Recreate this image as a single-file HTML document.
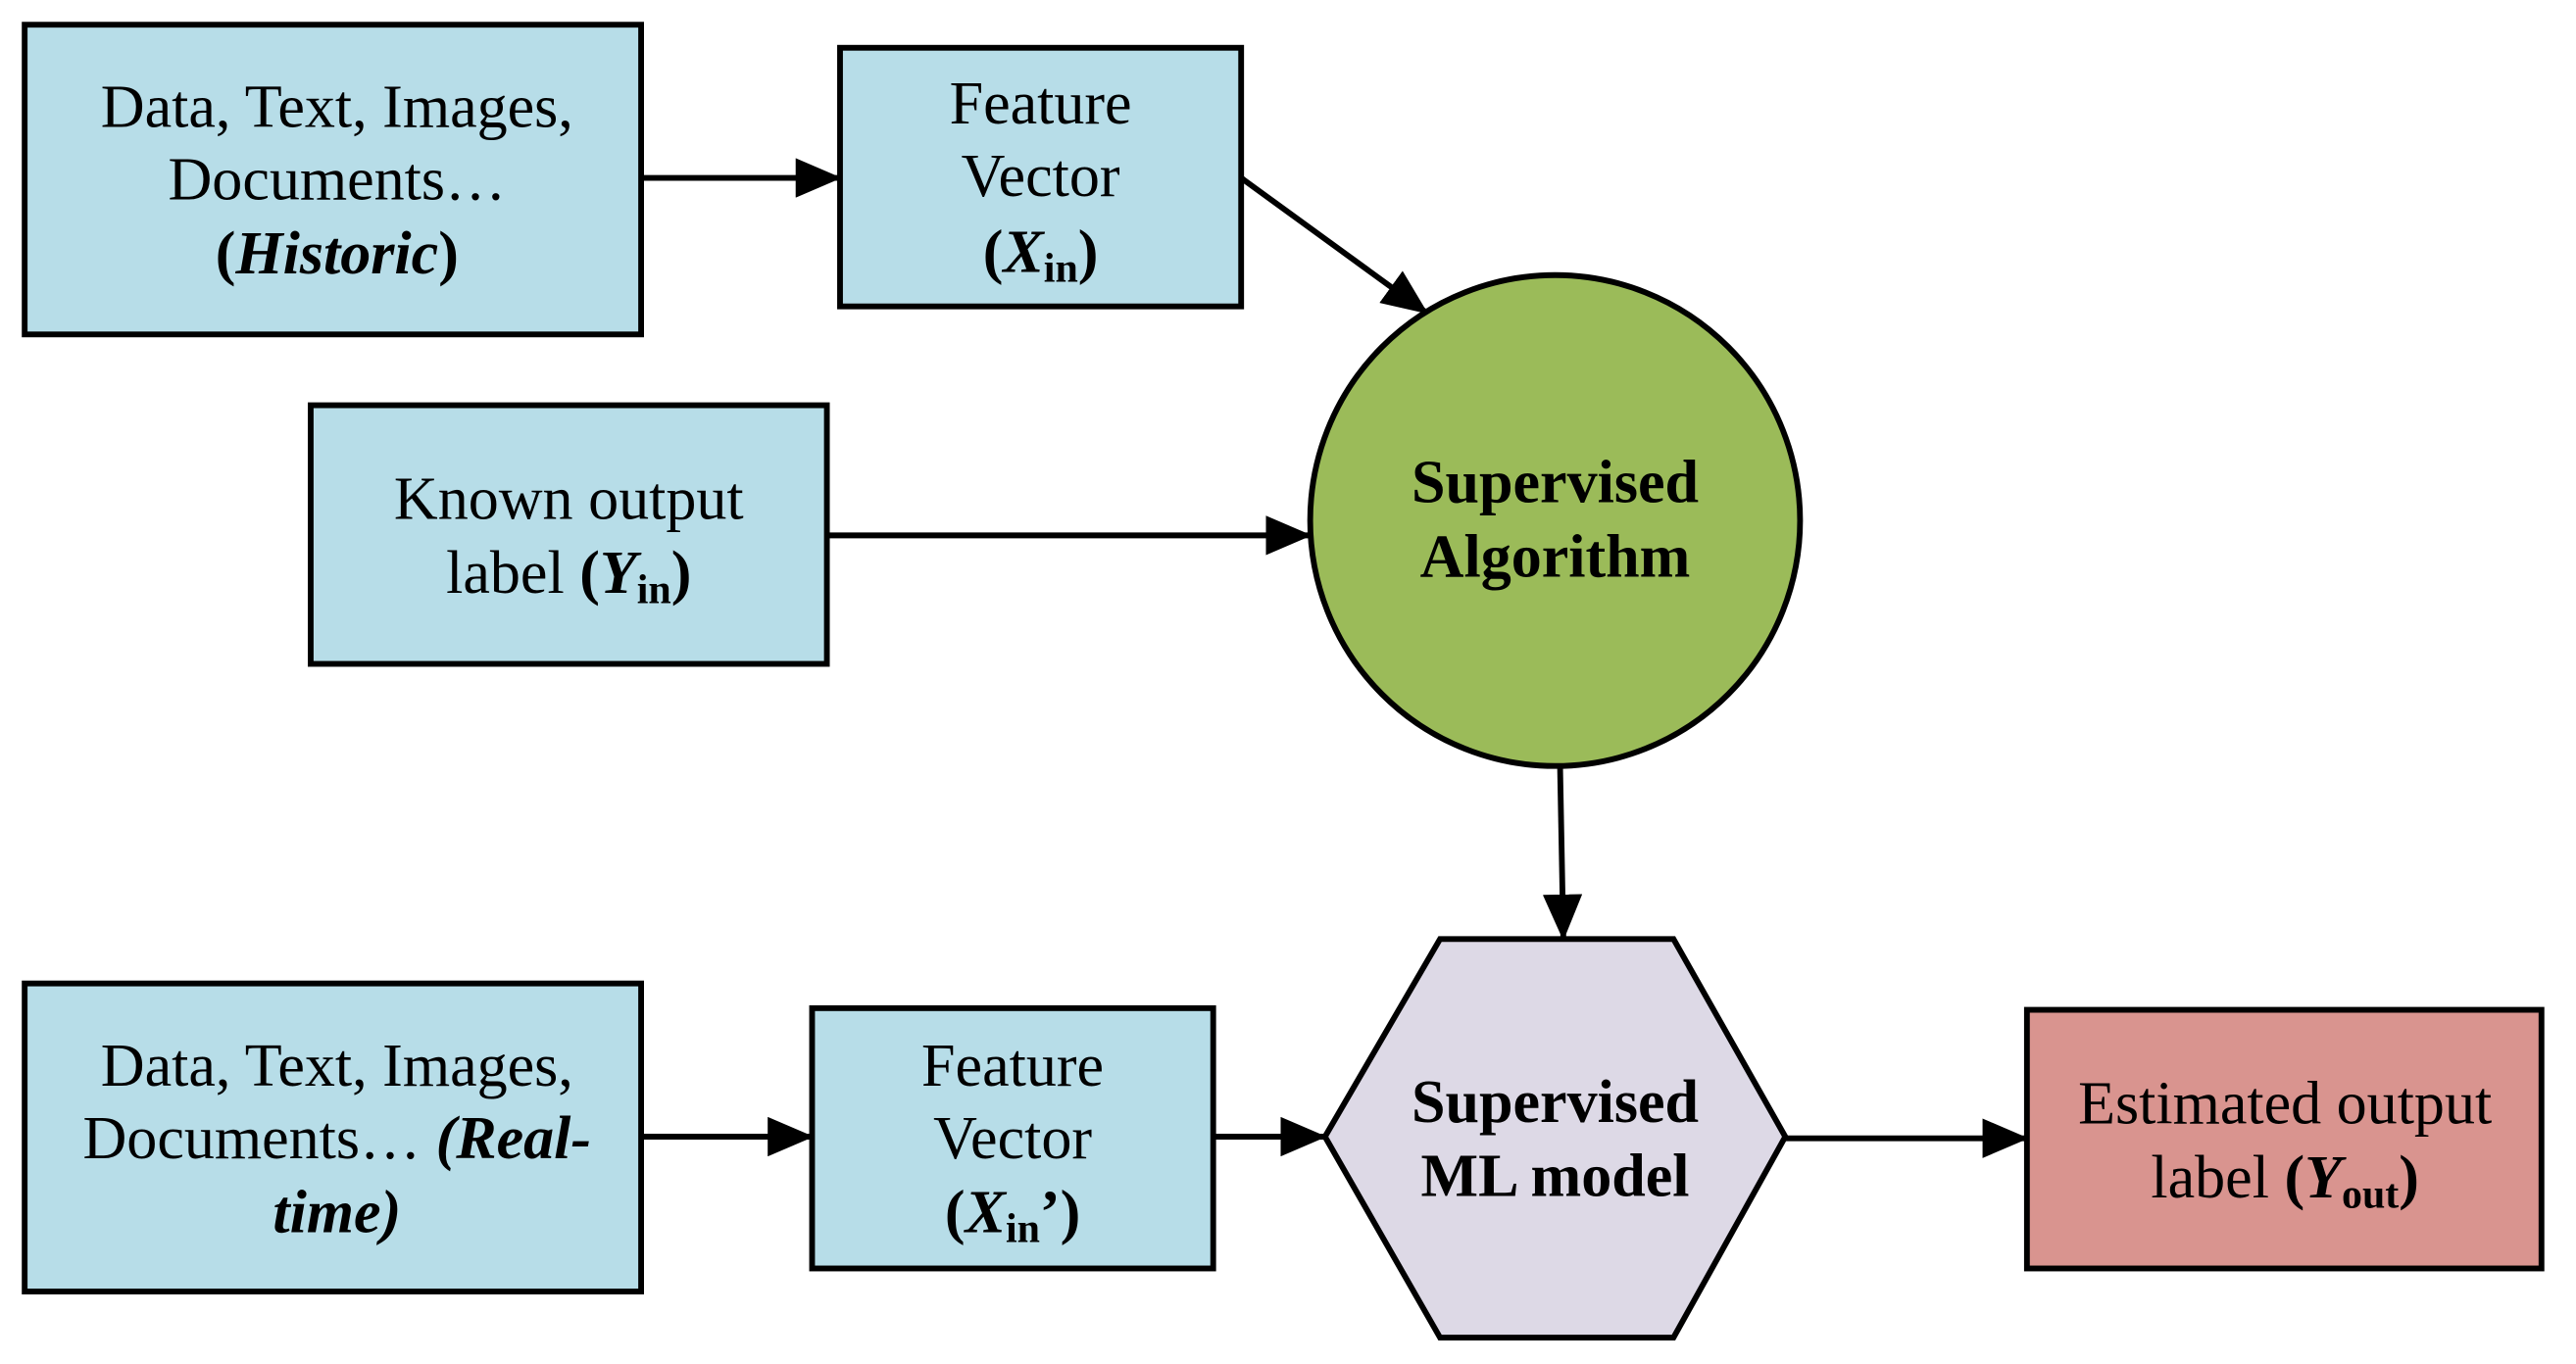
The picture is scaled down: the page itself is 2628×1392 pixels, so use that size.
<!DOCTYPE html>
<html><head><meta charset="utf-8"><style>
html,body{margin:0;padding:0;background:#fff;}
svg{display:block;}
text{font-family:"Liberation Serif",serif;font-size:37px;fill:#000;text-anchor:middle;}
.b{font-weight:bold;}
.i{font-style:italic;}
</style></head><body>
<svg width="2628" height="1392" viewBox="0 0 1567 828" preserveAspectRatio="none" xmlns="http://www.w3.org/2000/svg">
<defs>
<marker id="ah" markerWidth="28" markerHeight="24" refX="27" refY="12" orient="auto" markerUnits="userSpaceOnUse"><path d="M0,0 L28,12 L0,24 z" fill="#000"/></marker></defs>
<g stroke="#000" stroke-width="3.5">
<rect x="15" y="15" width="375" height="188" fill="#b7dde8"/>
<rect x="511" y="29" width="244" height="157" fill="#b7dde8"/>
<rect x="189" y="246" width="314" height="157" fill="#b7dde8"/>
<circle cx="946" cy="316" r="149" fill="#9bbb59"/>
<polygon points="806,690 876,570 1018,570 1086,690 1018,812 876,812" fill="#ddd9e6"/>
<rect x="15" y="597" width="375" height="187" fill="#b7dde8"/>
<rect x="494" y="612" width="244" height="158" fill="#b7dde8"/>
<rect x="1233" y="613" width="313" height="157" fill="#d9948f"/>
</g>
<g stroke="#000" stroke-width="3.5" fill="none">
<line x1="390" y1="108" x2="511" y2="108" marker-end="url(#ah)"/>
<line x1="755" y1="108" x2="868" y2="190" marker-end="url(#ah)"/>
<line x1="503" y1="325" x2="797" y2="325" marker-end="url(#ah)"/>
<line x1="949" y1="465" x2="951" y2="570" marker-end="url(#ah)"/>
<line x1="390" y1="690" x2="494" y2="690" marker-end="url(#ah)"/>
<line x1="738" y1="690" x2="806" y2="690" marker-end="url(#ah)"/>
<line x1="1086" y1="691" x2="1233" y2="691" marker-end="url(#ah)"/>
</g>
<text x="205" y="77">Data, Text, Images,</text>
<text x="205" y="121">Documents…</text>
<text x="205" y="166" class="b">(<tspan class="i">Historic</tspan>)</text>
<text x="633" y="75">Feature</text>
<text x="633" y="119">Vector</text>
<text x="633" y="165" class="b">(<tspan class="i">X</tspan><tspan font-size="25" dy="6">in</tspan><tspan dy="-6">)</tspan></text>
<text x="346" y="315">Known output</text>
<text x="346" y="360">label <tspan class="b">(<tspan class="i">Y</tspan><tspan font-size="25" dy="6">in</tspan><tspan dy="-6">)</tspan></tspan></text>
<text x="946" y="305" class="b">Supervised</text>
<text x="946" y="350" class="b">Algorithm</text>
<text x="946" y="681" class="b">Supervised</text>
<text x="946" y="726" class="b">ML model</text>
<text x="205" y="659">Data, Text, Images,</text>
<text x="205" y="703">Documents… <tspan class="b i">(Real-</tspan></text>
<text x="205" y="748" class="b i">time)</text>
<text x="616" y="659">Feature</text>
<text x="616" y="703">Vector</text>
<text x="616" y="748" class="b">(<tspan class="i">X</tspan><tspan font-size="25" dy="6">in</tspan><tspan dy="-6">’)</tspan></text>
<text x="1390" y="682">Estimated output</text>
<text x="1390" y="727">label <tspan class="b">(<tspan class="i">Y</tspan><tspan font-size="25" dy="6">out</tspan><tspan dy="-6">)</tspan></tspan></text>
</svg>
</body></html>
